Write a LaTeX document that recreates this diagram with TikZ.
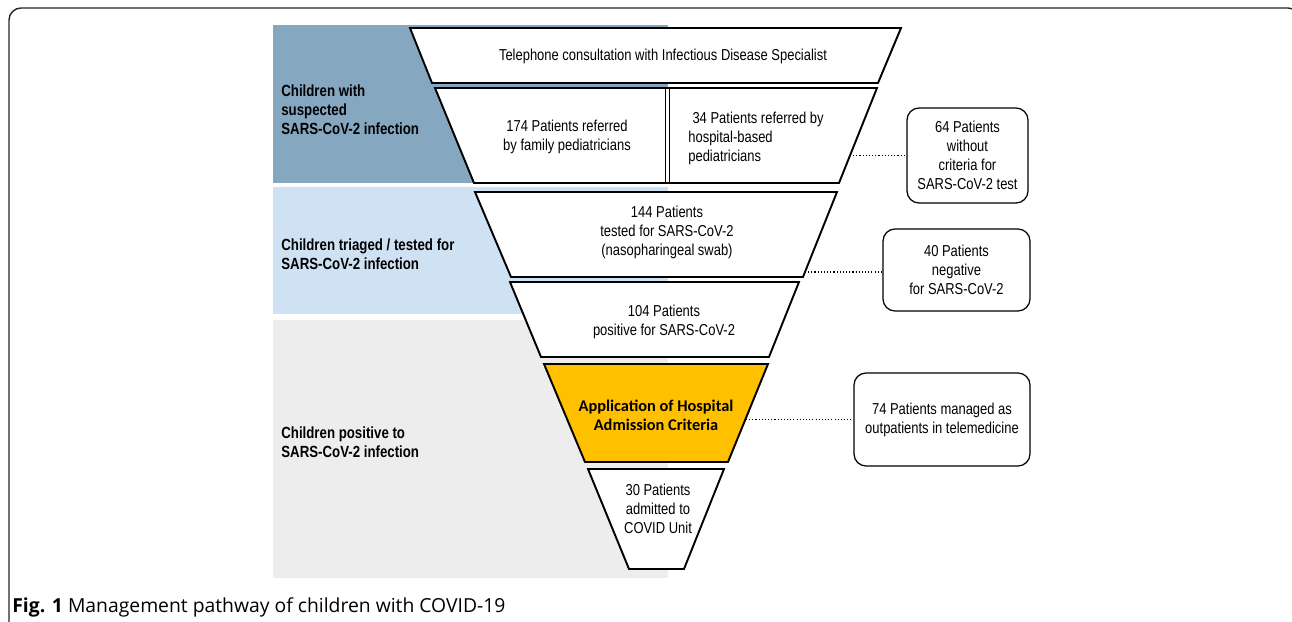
\documentclass[tikz,border=0pt]{standalone}
\usepackage{fontspec}
\setmainfont{Liberation Sans}[FakeStretch=0.82]
\newfontfamily\calfont{Carlito}
\newfontfamily\capfont{Open Sans}
\definecolor{darkband}{RGB}{133,167,192}
\definecolor{lightband}{RGB}{207,226,243}
\definecolor{grayband}{RGB}{237,237,237}
\definecolor{admyellow}{RGB}{255,192,0}
\tikzset{
  funnel/.style={draw=black, line width=1.1pt, fill=white, line join=miter},
  txt/.style={inner sep=0pt, align=center, font=\fontsize{9}{10.8}\selectfont},
  lbl/.style={inner sep=0pt, align=left, anchor=west, font=\fontsize{9.2}{10.8}\selectfont\bfseries},
  sidebox/.style={draw, rounded corners=0.24cm, line width=0.7pt, inner sep=0pt, align=center, font=\fontsize{9}{10.8}\selectfont},
  link/.style={line width=0.8pt, dash pattern=on 0.6pt off 1.2pt}
}
\begin{document}
\begin{tikzpicture}[x=0.02cm, y=-0.02cm]
\useasboundingbox (0,0) rectangle (1292,622);
\clip (0,0) rectangle (1292,622);
% frame
\draw [line width=0.8pt, black!85, rounded corners=0.24cm] (9,660) -- (9,8) -- (1300,8) -- (1300,660);

% bands
\fill [darkband] (273,25) rectangle (668,183);
\fill [lightband] (273,187) rectangle (668,314);
\fill [grayband] (273,320) rectangle (668,578);

% funnel
\draw [funnel] (410,28) -- (901,28) -- (878,83) -- (432,83) -- cycle;
\draw [funnel] (435,88) -- (877,88) -- (839,183) -- (474,183) -- cycle;
\draw [line width=0.8pt] (665.5,88) -- (665.5,183);
\draw [line width=0.8pt] (669.5,88) -- (669.5,183);
\draw [funnel] (475,192) -- (837,192) -- (803,277) -- (511,277) -- cycle;
\draw [funnel] (510,282) -- (799,282) -- (769,357) -- (541,357) -- cycle;
\draw [funnel, fill=admyellow] (544,364) -- (768,364) -- (728,462) -- (585,462) -- cycle;
\draw [funnel] (588,469) -- (724,469) -- (684,569) -- (629,569) -- cycle;

\node [txt] (tel) at (663,56) {Telephone consultation with Infectious Disease Specialist};
\node [txt] (fam) at (567,137) {174 Patients referred\\by family pediatricians};
\node [txt, align=left, anchor=west] (hosp) at (688,138) {\hspace*{0.5ex}34 Patients referred by\\hospital-based\\pediatricians};
\node [txt] (test) at (667,232) {144 Patients\\tested for SARS-CoV-2\\(nasopharingeal swab)};
\node [txt] (pos) at (664,322) {104 Patients\\positive for SARS-CoV-2};
\node [txt, font=\calfont\fontsize{9.3}{10.8}\selectfont\bfseries] (adm) at (656,415) {Application of Hospital\\Admission Criteria};
\node [txt] (unit) at (658,509) {30 Patients\\admitted to\\COVID Unit};

% left labels
\node [lbl] (susp) at (281,110) {Children with\\suspected\\SARS-CoV-2 infection};
\node [lbl] (triag) at (281,254) {Children triaged / tested for\\SARS-CoV-2 infection};
\node [lbl] (posit) at (281,442) {Children positive to\\SARS-CoV-2 infection};

% side boxes
\node [sidebox, minimum width=2.42cm, minimum height=1.9cm] (nocrit) at (967.5,155.5) {64 Patients\\without\\criteria for\\SARS-CoV-2 test};
\node [sidebox, minimum width=2.94cm, minimum height=1.64cm] (neg) at (956.5,270) {40 Patients\\negative\\for SARS-CoV-2};
\node [sidebox, minimum width=3.52cm, minimum height=1.86cm] (outp) at (942,419.5) {74 Patients managed as\\outpatients in telemedicine};

\coordinate (e1) at (850,155.5);
\coordinate (e2) at (805,272);
\coordinate (e3) at (746,419.5);
\draw [link] (e1) -- (nocrit.west);
\draw [link] (e2) -- (e2 -| neg.west);
\draw [link] (e3) -- (outp.west);

\node [anchor=base west, inner sep=0pt, font=\capfont\fontsize{11}{13}\selectfont] (cap) at (12,612) {\textbf{Fig. 1} Management pathway of children with COVID-19};
\end{tikzpicture}
\end{document}
